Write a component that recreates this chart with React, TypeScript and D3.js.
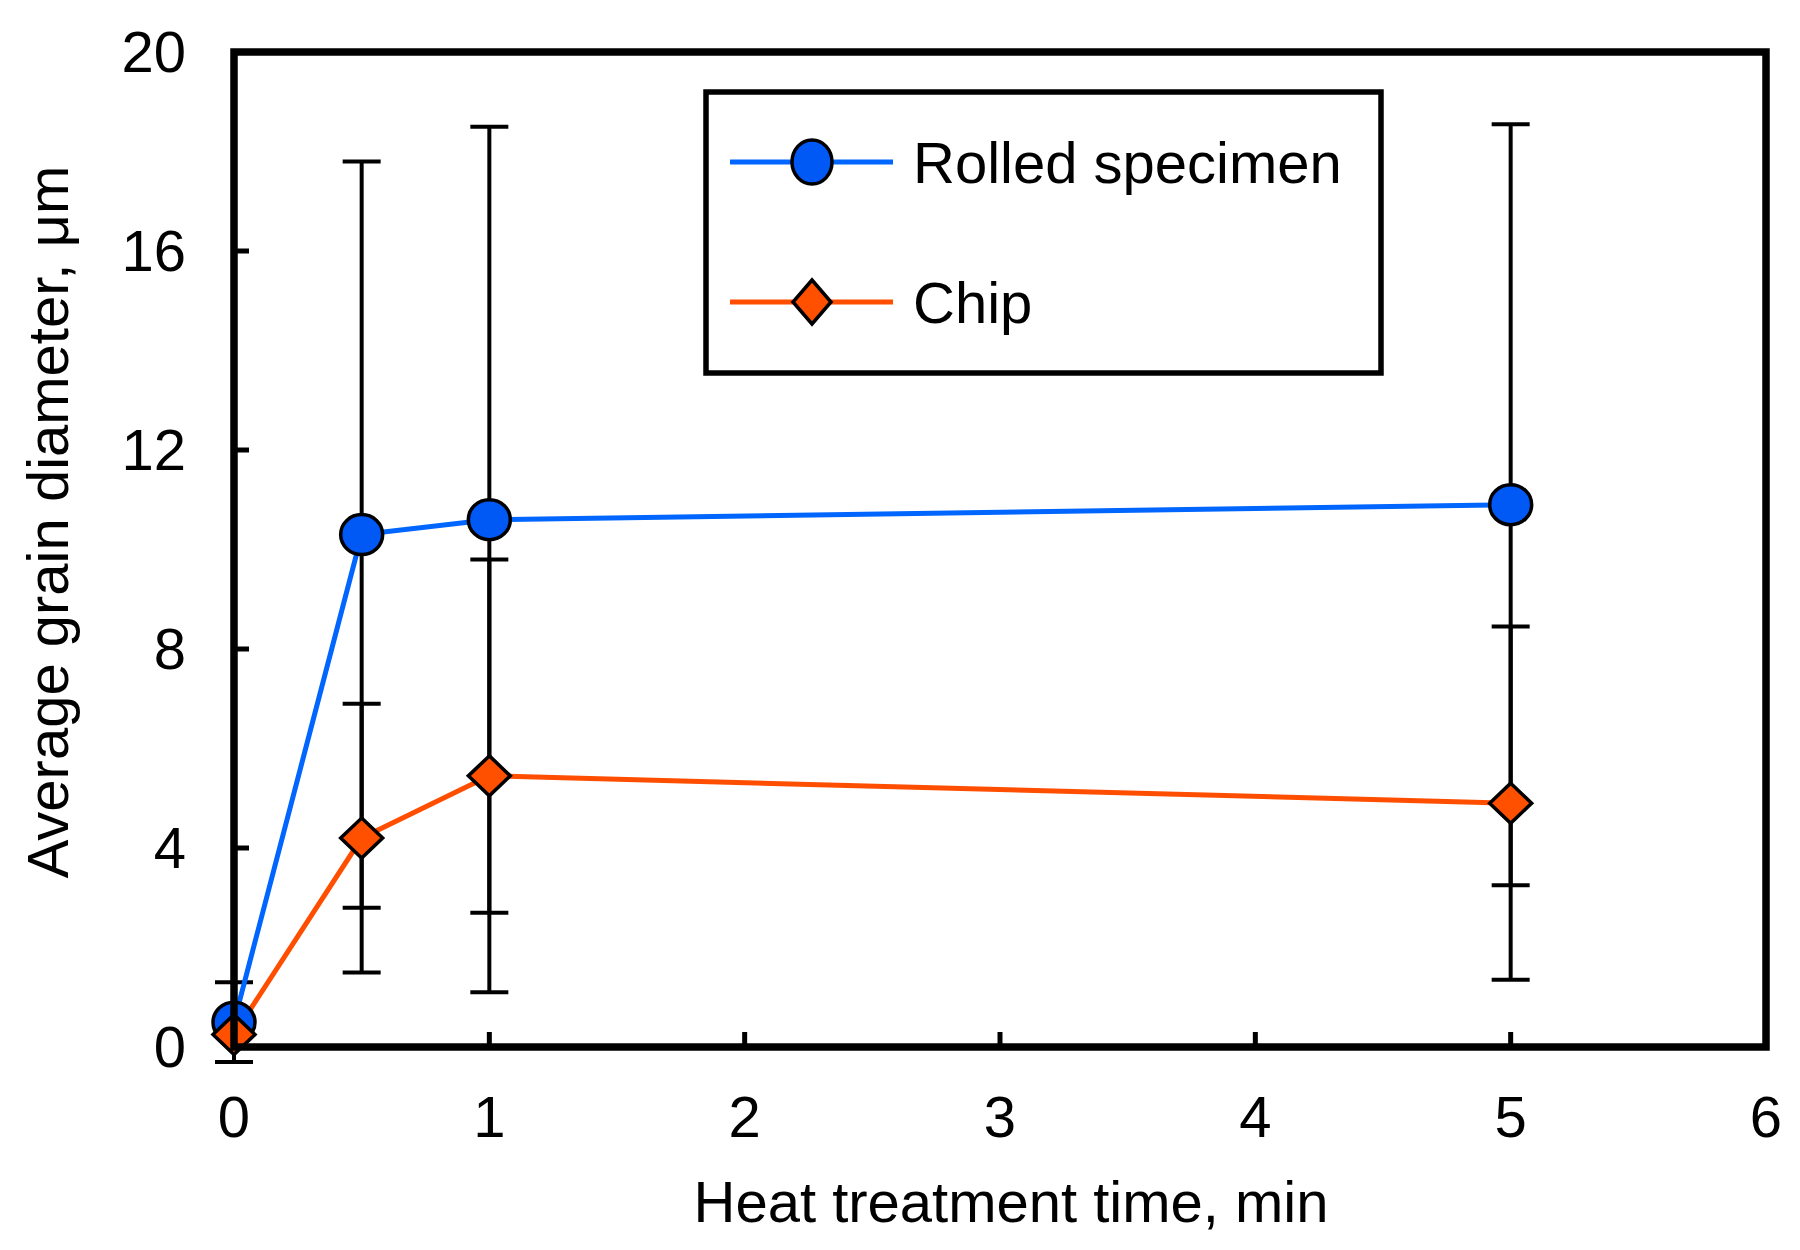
import React from "react";
import * as d3 from "d3";

const times = [0, 0.5, 1, 5];
const rolledMean = [0.5, 10.3, 10.6, 10.9];
const rolledErr = [0.8, 7.5, 7.9, 7.65];
const chipMean = [0.25, 4.2, 5.45, 4.9];
const chipErr = [0, 2.7, 4.35, 3.55];
const xTicks = [0, 1, 2, 3, 4, 5, 6];
const yTicks = [0, 4, 8, 12, 16, 20];
const seriesNames = ["Rolled specimen", "Chip"];
const xTitle = "Heat treatment time, min";
const yTitle = "Average grain diameter, \u03bcm";

const W = 1800;
const H = 1250;
const L = 234, R = 1766, T = 52, B = 1047;
const BLUE = "#0066FF";
const BLUE_FILL = "#0058F5";
const ORANGE = "#FF4E00";
const ORANGE_FILL = "#FF5000";
const FONT = "'Liberation Sans', Arial, sans-serif";

export default function App() {
  const x = d3.scaleLinear().domain([0, 6]).range([L, R]);
  const y = d3.scaleLinear().domain([0, 20]).range([B, T]);
  const line = d3
    .line<[number, number]>()
    .x((d) => x(d[0]))
    .y((d) => y(d[1]));
  const rolledPts: [number, number][] = times.map((t, i) => [t, rolledMean[i]]);
  const chipPts: [number, number][] = times.map((t, i) => [t, chipMean[i]]);

  const diamond = (cx: number, cy: number, rx = 21, ry = 20) =>
    `M${cx},${cy - ry}L${cx + rx},${cy}L${cx},${cy + ry}L${cx - rx},${cy}Z`;

  const errBars = (means: number[], errs: number[], key: string) =>
    times.map((t, i) => {
      if (!errs[i]) return null;
      const cx = x(t);
      const y1 = y(means[i] + errs[i]);
      const y2 = y(means[i] - errs[i]);
      return (
        <g key={key + i} stroke="#000" strokeWidth={4}>
          <line x1={cx} x2={cx} y1={y1} y2={y2} />
          <line x1={cx - 19} x2={cx + 19} y1={y1} y2={y1} />
          <line x1={cx - 19} x2={cx + 19} y1={y2} y2={y2} />
        </g>
      );
    });

  const legX = 706, legY = 92, legW = 675, legH = 281;
  const row1 = 162, row2 = 302;
  const lineX1 = 730, lineX2 = 893, markX = 812, textX = 913;

  return (
    <svg
      width={W}
      height={H}
      style={{ position: "absolute", left: 0, top: 0, background: "#fff" }}
      fontFamily={FONT}
    >
      <rect x={0} y={0} width={W} height={H} fill="#fff" />
      {/* ticks */}
      {xTicks.map((t) => (
        <g key={"xt" + t}>
          <line x1={x(t)} x2={x(t)} y1={B} y2={B - 15} stroke="#000" strokeWidth={5} />
          <text x={x(t)} y={1137} fontSize={58} textAnchor="middle" fill="#000">
            {t}
          </text>
        </g>
      ))}
      {yTicks.map((t) => (
        <g key={"yt" + t}>
          <line x1={L} x2={L + 15} y1={y(t)} y2={y(t)} stroke="#000" strokeWidth={5} />
          <text x={186} y={y(t) + 20} fontSize={58} textAnchor="end" fill="#000">
            {t}
          </text>
        </g>
      ))}
      {/* error bars */}
      {errBars(rolledMean, rolledErr, "re")}
      {errBars(chipMean, chipErr, "ce")}
      {/* lines */}
      <path d={line(rolledPts) || ""} fill="none" stroke={BLUE} strokeWidth={5} />
      <path d={line(chipPts) || ""} fill="none" stroke={ORANGE} strokeWidth={5} />
      {/* markers */}
      {rolledPts.map((p, i) => (
        <ellipse
          key={"rm" + i}
          cx={x(p[0])}
          cy={y(p[1])}
          rx={21}
          ry={20}
          fill={BLUE_FILL}
          stroke="#000"
          strokeWidth={3.5}
        />
      ))}
      {chipPts.map((p, i) => (
        <path
          key={"cm" + i}
          d={diamond(x(p[0]), y(p[1]))}
          fill={ORANGE_FILL}
          stroke="#000"
          strokeWidth={3.5}
        />
      ))}
      {/* frame */}
      <rect x={L} y={T} width={R - L} height={B - T} fill="none" stroke="#000" strokeWidth={7.5} />
      {/* legend */}
      <rect x={legX} y={legY} width={legW} height={legH} fill="#fff" stroke="#000" strokeWidth={5.5} />
      <line x1={lineX1} x2={lineX2} y1={row1} y2={row1} stroke={BLUE} strokeWidth={5} />
      <ellipse cx={markX} cy={row1} rx={20} ry={22} fill={BLUE_FILL} stroke="#000" strokeWidth={3.5} />
      <text x={textX} y={row1 + 21} fontSize={58} fill="#000">
        {seriesNames[0]}
      </text>
      <line x1={lineX1} x2={lineX2} y1={row2} y2={row2} stroke={ORANGE} strokeWidth={5} />
      <path d={diamond(markX, row2, 19, 22)} fill={ORANGE_FILL} stroke="#000" strokeWidth={3.5} />
      <text x={textX} y={row2 + 21} fontSize={58} fill="#000">
        {seriesNames[1]}
      </text>
      {/* axis titles */}
      <text x={1011} y={1222} fontSize={58} textAnchor="middle" fill="#000">
        {xTitle}
      </text>
      <text
        transform="translate(68,522) rotate(-90)"
        fontSize={58}
        textAnchor="middle"
        fill="#000"
      >
        {yTitle}
      </text>
    </svg>
  );
}
